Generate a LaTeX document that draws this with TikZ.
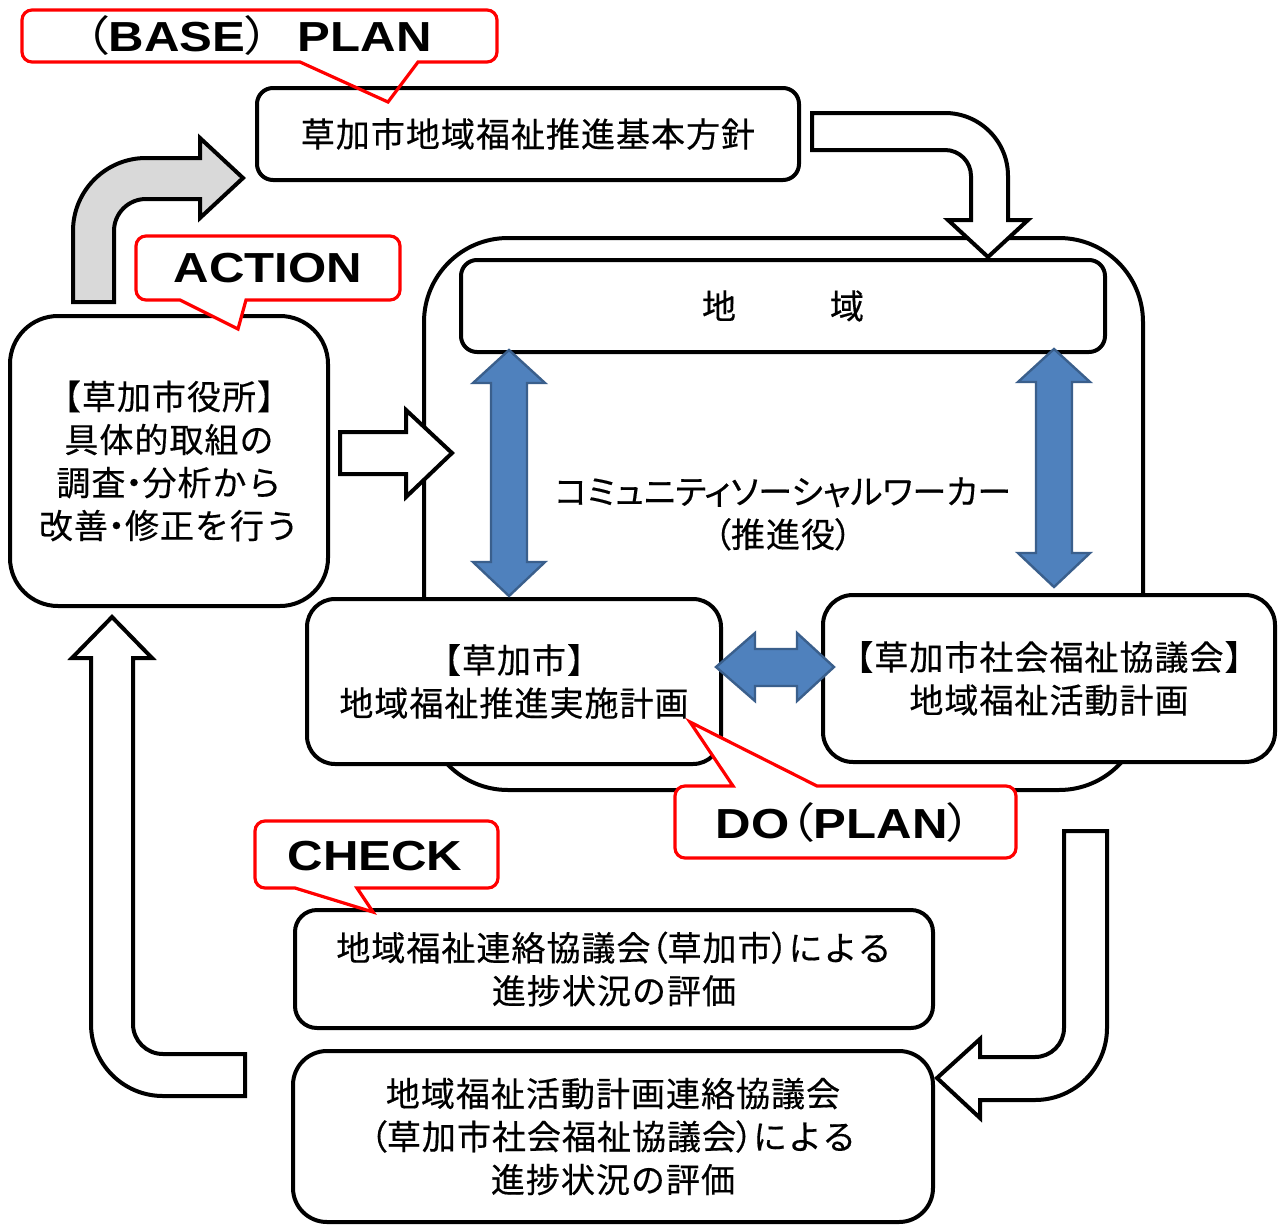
\documentclass[tikz,border=0pt]{standalone}
\usepackage{graphicx}
\usepackage{fontspec}
\newfontfamily\jp{Noto Sans CJK JP}[LetterSpace=3,FakeBold=0.4]
\newfontfamily\jpp{Noto Sans CJK JP}[RawFeature=+palt,FakeBold=0.4]
\newfontfamily\jpq{Noto Sans CJK JP}[RawFeature=+palt]
\newfontfamily\latb{Liberation Sans}
\newcommand\jlp{{\jpp （}}
\newcommand\jrp{{\jpp ）}}
\newcommand\blp{{\jpq\mdseries （}}
\newcommand\brp{{\jpq\mdseries ）}}
\newcommand\jdot{{\jpp ・}}
\definecolor{bluefill}{HTML}{4F81BD}
\definecolor{blueedge}{HTML}{3A5F8C}
\definecolor{grayfill}{HTML}{D9D9D9}
\begin{document}
\begin{tikzpicture}[x=0.5pt,y=-0.5pt,
  box/.style={draw, line width=2pt, fill=white, align=center, inner sep=0pt,
    font=\jp\fontsize{17}{21.5}\selectfont},
  txt/.style={align=center, inner sep=0pt, font=\jp\fontsize{17}{21.5}\selectfont},
  callout/.style={draw=red, line width=1.6pt, line join=miter},
  lbl/.style={inner sep=0pt, font=\latb\bfseries\fontsize{21}{25}\selectfont},
  blockarrow/.style={draw, line width=2pt, fill=white, line join=miter},
  bluearrow/.style={draw=blueedge, line width=1.2pt, fill=bluefill, line join=miter}]
\useasboundingbox (0,0) rectangle (1285,1226);

% container of the region
\node[box, minimum width=359.5pt, minimum height=276pt, rounded corners=42pt] (region) at (783.5,514) {};
\node[box, minimum width=322pt, minimum height=46pt, rounded corners=8pt] (chiiki) at (783,306) {地\hspace{47pt}域};
\node[txt] (csw) at (783,514) {{\jpp コミュニティソーシャルワーカー}\\\jlp 推進役\jrp};

% boxes
\node[box, minimum width=159pt, minimum height=145pt, rounded corners=24pt] (city) at (169,461)
  {【草加市役所】\\具体的取組の\\調査\jdot 分析から\\改善\jdot 修正を行う};
\node[box, minimum width=207pt, minimum height=82.5pt, rounded corners=14pt] (cityplan) at (514,681.5)
  {【草加市】\\地域福祉推進実施計画};
\node[box, minimum width=226pt, minimum height=83.5pt, rounded corners=15pt] (csplan) at (1049,678.5)
  {【草加市社会福祉協議会】\\地域福祉活動計画};

% blue double arrows
\draw[bluearrow] (509,350) -- (545,383) -- (527,383) -- (527,562) -- (545,562) -- (509,596)
  -- (473,562) -- (491,562) -- (491,383) -- (473,383) -- cycle;
\draw[bluearrow] (1054,349) -- (1090,382) -- (1072,382) -- (1072,553) -- (1090,553) -- (1054,587)
  -- (1018,553) -- (1036,553) -- (1036,382) -- (1018,382) -- cycle;
\draw[bluearrow] (716,667) -- (755,633) -- (755,649) -- (797,649) -- (797,633) -- (834,667)
  -- (797,701) -- (797,686) -- (755,686) -- (755,701) -- cycle;

% plan box
\node[box, minimum width=271pt, minimum height=46pt, rounded corners=8pt] (plan) at (528,134)
  {草加市地域福祉推進基本方針};

% block arrows
\draw[blockarrow, fill=grayfill] (73,302) -- (73,231) arc[start angle=180, end angle=270, radius=73]
  -- (200,158) -- (200,138) -- (243,178) -- (200,218) -- (200,199) -- (146,199)
  arc[start angle=270, end angle=180, radius=32] -- (114,302) -- cycle;
\draw[blockarrow] (812,113) -- (945,113) arc[start angle=270, end angle=360, radius=63]
  -- (1008,220) -- (1028,220) -- (988,257) -- (948,220) -- (971,220) -- (971,176)
  arc[start angle=0, end angle=-90, radius=26] -- (812,150) -- cycle;
\draw[blockarrow] (340,432) -- (406,432) -- (406,410) -- (452,453) -- (406,497) -- (406,474) -- (340,474) -- cycle;
\draw[blockarrow] (1064,831) -- (1107,831) -- (1107,1028) arc[start angle=0, end angle=90, radius=72]
  -- (980,1100) -- (980,1118) -- (937,1078) -- (980,1039) -- (980,1057) -- (1035,1057)
  arc[start angle=90, end angle=0, radius=29] -- cycle;
\draw[blockarrow] (245,1054) -- (163,1054) arc[start angle=90, end angle=180, radius=30]
  -- (133,658) -- (152,658) -- (112,617) -- (72,658) -- (91,658) -- (91,1024)
  arc[start angle=180, end angle=90, radius=72] -- (245,1096) -- cycle;

% evaluation boxes
\node[box, minimum width=319pt, minimum height=59pt, rounded corners=11pt] (eval1) at (614,969)
  {地域福祉連絡協議会\jlp 草加市\jrp による\\進捗状況の評価};
\node[box, minimum width=320pt, minimum height=85.5pt, rounded corners=17pt] (eval2) at (613,1136.5)
  {地域福祉活動計画連絡協議会\\\jlp 草加市社会福祉協議会\jrp による\\進捗状況の評価};

% callouts
\draw[callout] (32,10) -- (487,10) arc[start angle=270, end angle=360, radius=10] -- (497,52)
  arc[start angle=0, end angle=90, radius=10] -- (418,62) -- (388,102) -- (300,62) -- (32,62)
  arc[start angle=90, end angle=180, radius=10] -- (22,20) arc[start angle=180, end angle=270, radius=10] -- cycle;
\node[lbl] (basetxt) at (258,36) {\scalebox{1.17}[1]{\blp BASE\brp\kern12pt PLAN}};

\draw[callout, fill=white] (146,236) -- (390,236) arc[start angle=270, end angle=360, radius=10] -- (400,290)
  arc[start angle=0, end angle=90, radius=10] -- (246,300) -- (238,329) -- (180,300) -- (146,300)
  arc[start angle=90, end angle=180, radius=10] -- (136,246) arc[start angle=180, end angle=270, radius=10] -- cycle;
\node[lbl] (acttxt) at (268,268) {\scalebox{1.17}[1]{ACTION}};

\draw[callout, fill=white] (265,821) -- (488,821) arc[start angle=270, end angle=360, radius=10] -- (498,878)
  arc[start angle=0, end angle=90, radius=10] -- (357,888) -- (373,912) -- (295,888) -- (265,888)
  arc[start angle=90, end angle=180, radius=10] -- (255,831) arc[start angle=180, end angle=270, radius=10] -- cycle;
\node[lbl] (checktxt) at (375,856) {\scalebox{1.17}[1]{CHECK}};

\draw[callout, fill=white] (685,786) -- (733,786) -- (690,722) -- (817,786) -- (1006,786)
  arc[start angle=270, end angle=360, radius=10] -- (1016,848)
  arc[start angle=0, end angle=90, radius=10] -- (685,858)
  arc[start angle=90, end angle=180, radius=10] -- (675,796) arc[start angle=180, end angle=270, radius=10] -- cycle;
\node[lbl] (dotxt) at (844,823) {\scalebox{1.17}[1]{DO\blp PLAN\brp}};
\end{tikzpicture}
\end{document}
